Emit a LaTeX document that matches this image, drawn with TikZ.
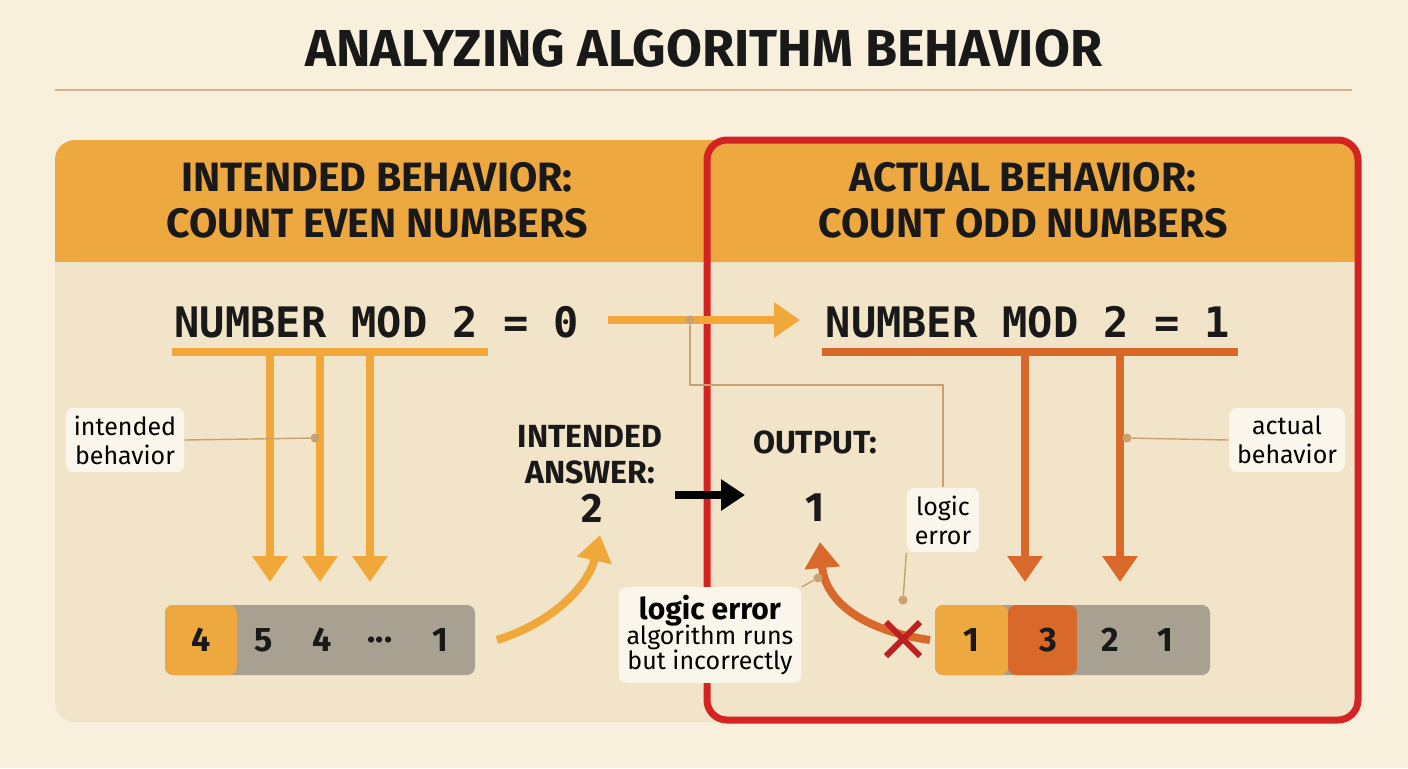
\documentclass[tikz,border=0pt]{standalone}
\usepackage{fontspec}
\setmainfont{Fira Sans}
\setmonofont{DejaVu Sans Mono}
\usetikzlibrary{arrows.meta}
\definecolor{cream}{HTML}{F8F0DD}
\definecolor{panel}{HTML}{F1E4C8}
\definecolor{band}{HTML}{EDA93F}
\definecolor{lightorange}{HTML}{F0A83A}
\definecolor{darkorange}{HTML}{D9692A}
\definecolor{errred}{HTML}{D42323}
\definecolor{slate}{HTML}{A8A090}
\definecolor{tan}{HTML}{C9A070}
\tikzset{
  head/.style={font=\bfseries\fontsize{20.5}{23}\selectfont, align=center, text=black!90},
  code/.style={font=\ttfamily\bfseries\fontsize{21}{23}\selectfont, text=black!90},
  callout/.style={fill=cream!60!white, rounded corners=4pt, align=center, font=\fontsize{12.5}{14.5}\selectfont, inner sep=4pt},
  cell/.style={font=\bfseries\fontsize{17}{19}\selectfont, text=black!90},
  fat/.style={line width=4pt, -{Triangle[length=13pt,width=17pt]}},
  leader/.style={tan, line width=0.7pt},
  dot/.style={fill=tan, circle, inner sep=1.6pt}
}
\begin{document}
\begin{tikzpicture}[x=0.5pt, y=-0.5pt]
  % Background
  \fill[cream] (0,0) rectangle (1408,768);
  \node[font=\bfseries\fontsize{26}{29}\selectfont, text=black!90] (title) at (704,48) {ANALYZING ALGORITHM BEHAVIOR};
  \draw[tan!80, line width=1pt] (55,90) -- (1352,90);

  % Panels
  \fill[panel, rounded corners=10pt] (55,140) rectangle (1360,722);
  \fill[band, rounded corners=10pt] (55,140) rectangle (1360,262);
  \fill[band] (55,200) rectangle (1360,262);
  \draw[errred, line width=3.5pt, rounded corners=10pt] (707,140) rectangle (1358,720);
  \node[head] (intended) at (377,200) {INTENDED BEHAVIOR:\\COUNT EVEN NUMBERS};
  \node[head] (actual) at (1023,200) {ACTUAL BEHAVIOR:\\COUNT ODD NUMBERS};

  % Conditions
  \node[code] (condl) at (377,322) {NUMBER MOD 2 = 0};
  \node[code] (condr) at (1028,322) {NUMBER MOD 2 = 1};
  \draw[lightorange, line width=4pt] (172,352) -- (488,352);
  \draw[darkorange, line width=4pt] (822,352) -- (1238,352);
  \coordinate (flip) at (690,320);
  \draw[fat, lightorange] (608,320) -- (800,320);

  % Down arrows
  \foreach \x in {270,320,370}
    \draw[fat, lightorange] (\x,352) -- (\x,582);
  \foreach \x in {1025,1120}
    \draw[fat, darkorange] (\x,352) -- (\x,582);

  % Callouts
  \node[callout] (cintended) at (125,440) {intended\\behavior};
  \node[dot] (dintended) at (315,438) {};
  \draw[leader] (cintended.east) -- (dintended);
  \node[callout] (cactual) at (1287,440) {actual\\behavior};
  \node[dot] (dactual) at (1127,438) {};
  \draw[leader] (cactual.west) -- (dactual);

  % Answers
  \node[head, font=\bfseries\fontsize{16}{18}\selectfont] (answer) at (590,455) {INTENDED\\ANSWER:};
  \node[head] (two) at (592,508) {2};
  \node[head, font=\bfseries\fontsize{16}{18}\selectfont] (output) at (815,442) {OUTPUT:};
  \node[head] (one) at (815,508) {1};
  \draw[line width=4pt, -{Triangle[length=12pt,width=15pt]}] (675,495) -- (745,495);

  % Arrays
  \fill[slate, rounded corners=4pt] (165,605) rectangle (475,675);
  \fill[band, rounded corners=4pt] (165,605) rectangle (237,675);
  \node[cell] (l1) at (201,640) {4};
  \node[cell] (l2) at (264,640) {5};
  \node[cell] (l3) at (322,640) {4};
  \node[cell] (l4) at (380,640) {...};
  \node[cell] (l5) at (440,640) {1};
  \fill[slate, rounded corners=4pt] (935,605) rectangle (1210,675);
  \fill[band, rounded corners=4pt] (935,605) rectangle (1008,675);
  \fill[darkorange, rounded corners=4pt] (1008,605) rectangle (1077,675);
  \node[cell] (r1) at (971,640) {1};
  \node[cell] (r2) at (1048,640) {3};
  \node[cell] (r3) at (1110,640) {2};
  \node[cell] (r4) at (1165,640) {1};

  % Curved arrows
  \draw[fat, lightorange] (497,640) .. controls (560,620) and (590,580) .. (600,535);
  \draw[fat, darkorange] (930,640) .. controls (860,630) and (825,600) .. (820,542);
  \draw[errred!90!black, line width=3pt] (886,622) -- (920,656) (886,656) -- (920,622);

  % Logic error notes
  \node[callout] (clogic) at (943,520) {logic\\error};
  \node[dot] (dlogic) at (903,600) {};
  \draw[leader] (clogic.south west) -- (dlogic);
  \node[dot] (dflip) at (flip) {};
  \draw[leader] (dflip) -- (690,385) -- (943,385) -- (clogic.north);
  \node[callout] (cnote) at (710,635) {\textbf{\fontsize{15}{17}\selectfont logic error}\\[-2pt]algorithm runs\\[-2pt]but incorrectly};
  \node[dot] (dnote) at (818,578) {};
  \draw[leader] (cnote.north east) -- (dnote);
\end{tikzpicture}
\end{document}
